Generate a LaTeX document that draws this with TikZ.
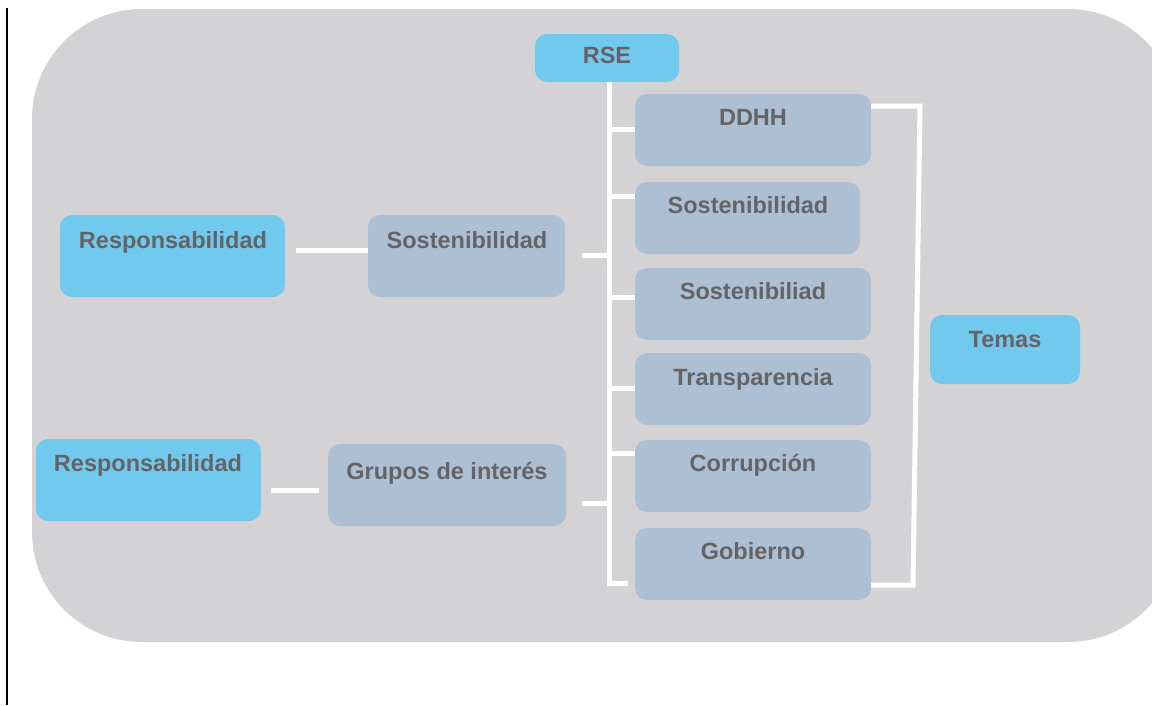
\documentclass[tikz,border=0pt]{standalone}
\usepackage{fontspec}
\setmainfont{Liberation Sans}
\definecolor{bgc}{HTML}{D3D3D5}
\definecolor{lblue}{HTML}{72C9EE}
\definecolor{gblue}{HTML}{ADBFD2}
\definecolor{txt}{HTML}{646466}
\tikzset{
  box/.style={rounded corners=12pt, inner sep=0pt, draw=none},
  lb/.style={box, fill=lblue},
  gb/.style={box, fill=gblue},
  tx/.style={inner sep=0pt, text height=17pt, text depth=0pt, text=txt,
    font=\fontsize{23.5}{28}\selectfont\bfseries},
  conn/.style={draw=white, line width=5pt}
}
\begin{document}
\begin{tikzpicture}[x=1pt,y=-1pt]
\useasboundingbox (0,0) rectangle (1152,705);
\fill[white] (0,0) rectangle (1152,705);
\begin{scope}
\clip (0,0) rectangle (1152,705);
\fill[bgc, rounded corners=110pt] (32,9) rectangle (1178,642);
\end{scope}
\draw[black, line width=2pt] (7,8) -- (7,705);
% boxes
\node[lb, minimum width=144pt, minimum height=48pt] (rse) at (607,58) {};
\node[gb, minimum width=236pt, minimum height=72pt] (ddhh) at (753,130) {};
\node[gb, minimum width=225pt, minimum height=72pt] (sost2) at (747.5,218) {};
\node[gb, minimum width=236pt, minimum height=72pt] (sostb) at (753,304) {};
\node[gb, minimum width=236pt, minimum height=72pt] (transp) at (753,389) {};
\node[gb, minimum width=236pt, minimum height=72pt] (corr) at (753,476) {};
\node[gb, minimum width=236pt, minimum height=72pt] (gob) at (753,564) {};
\node[lb, minimum width=150pt, minimum height=69pt] (temas) at (1005,349.5) {};
\node[lb, minimum width=225pt, minimum height=82pt] (resp1) at (172.5,256) {};
\node[gb, minimum width=197pt, minimum height=82pt] (sost1) at (466.5,256) {};
\node[lb, minimum width=225pt, minimum height=82pt] (resp2) at (148.5,480) {};
\node[gb, minimum width=238pt, minimum height=82pt] (grupos) at (447,485) {};
% texts
\node[tx] (rse-t) at (607,55) {RSE};
\node[tx] (ddhh-t) at (753,117) {DDHH};
\node[tx] (sost2-t) at (748,205) {Sostenibilidad};
\node[tx] (sostb-t) at (753,291) {Sostenibiliad};
\node[tx] (transp-t) at (753,377) {Transparencia};
\node[tx] (corr-t) at (753,463) {Corrupción};
\node[tx] (gob-t) at (753,551) {Gobierno};
\node[tx] (temas-t) at (1005,339) {Temas};
\node[tx] (resp1-t) at (173,240) {Responsabilidad};
\node[tx] (sost1-t) at (467,240) {Sostenibilidad};
\node[tx] (resp2-t) at (148,463) {Responsabilidad};
\node[tx] (grupos-t) at (447,471) {Grupos de interés};
% connectors
\coordinate (spine) at (609,82);
\coordinate (gobstub) at ([yshift=-19pt,xshift=-7pt]gob.west);
\coordinate (brkTop) at (920,106);
\coordinate (brkBot) at (913,585);
\draw[conn] (rse.south -| spine) -- (gobstub -| spine) -- (gobstub);
\draw[conn] ([yshift=1pt]ddhh.west) -- ([yshift=1pt]ddhh.west -| spine);
\draw[conn] ([yshift=22pt]sost2.west) -- ([yshift=22pt]sost2.west -| spine);
\draw[conn] ([yshift=7pt]sostb.west) -- ([yshift=7pt]sostb.west -| spine);
\draw[conn] ([yshift=1pt]transp.west) -- ([yshift=1pt]transp.west -| spine);
\draw[conn] ([yshift=23pt]corr.west) -- ([yshift=23pt]corr.west -| spine);
\draw[conn] ([xshift=17pt,yshift=1pt]sost1.east) -- ([yshift=1pt]sost1.east -| spine);
\draw[conn] ([xshift=16pt,yshift=-18pt]grupos.east) -- ([yshift=-18pt]grupos.east -| spine);
\draw[conn] ([xshift=11pt,yshift=6pt]resp1.east) -- ([yshift=6pt]sost1.west);
\draw[conn] ([xshift=10pt,yshift=-10pt]resp2.east) -- ([xshift=-9pt,yshift=-5pt]grupos.west);
\draw[conn] ([yshift=24pt]ddhh.east) -- (brkTop) -- (brkBot) -- ([yshift=-21pt]gob.east);
\end{tikzpicture}
\end{document}
